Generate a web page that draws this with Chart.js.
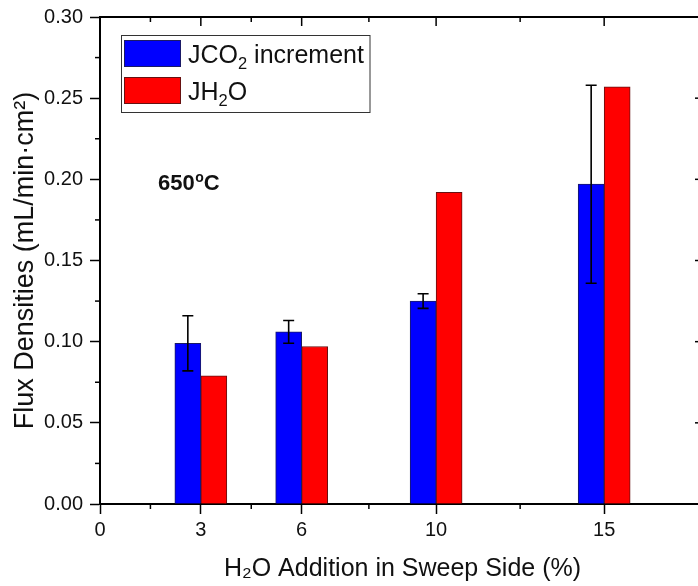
<!DOCTYPE html>
<html><head><meta charset="utf-8">
<script src="https://cdn.jsdelivr.net/npm/chart.js@4.4.0/dist/chart.umd.min.js"></script>
<style>
html,body{margin:0;padding:0;overflow:hidden;background:#fff;width:698px;height:586px}
#wrap{position:absolute;left:0;top:0;width:710px;height:586px}
</style>
</head><body><div id="wrap"><canvas id="c"></canvas></div>
<script>
// ---- data ----
const xPositions = [3, 6, 10, 15];
const co2Increment = [0.099, 0.106, 0.125, 0.197];
const co2Error = [0.017, 0.007, 0.0045, 0.061];
const h2oFlux = [0.079, 0.097, 0.192, 0.257];
const seriesLabels = ['JCO\u2082 increment', 'JH\u2082O'];
const xTickValues = [0, 3, 6, 10, 15];
const xMinorTicks = [1.5, 4.5, 8, 12.5];
const yTickValues = [0, 0.05, 0.10, 0.15, 0.20, 0.25, 0.30];
const yMinorTicks = [0.025, 0.075, 0.125, 0.175, 0.225, 0.275];
const annotationText = ['650', 'o', 'C'];

const FAMILY = '"Liberation Sans", Arial, sans-serif';
const BLUE = '#0000ff', RED = '#ff0000';

// draw text where \u2082 becomes subscript 2, \u00b2 superscript 2
function richParts(text){
  const out=[]; let buf='';
  for(const ch of text){
    if(ch==='\u2082'){ if(buf){out.push({t:buf,k:0});buf='';} out.push({t:'2',k:-1}); }
    else if(ch==='\u00b2'){ if(buf){out.push({t:buf,k:0});buf='';} out.push({t:'2',k:1}); }
    else buf+=ch;
  }
  if(buf) out.push({t:buf,k:0});
  return out;
}
function drawRich(ctx, text, x, y, size, weight){
  const parts = richParts(text);
  let cx = x;
  ctx.textBaseline = 'alphabetic'; ctx.textAlign = 'left';
  for(const p of parts){
    const s = p.k===0 ? size : size*0.66;
    const dy = p.k===-1 ? size*0.24 : (p.k===1 ? -size*0.4 : 0);
    ctx.font = `${weight} ${s}px ${FAMILY}`;
    ctx.fillText(p.t, cx, y+dy);
    cx += ctx.measureText(p.t).width;
  }
  return cx - x;
}

const errorBarPlugin = {
  id:'errorBars',
  afterDatasetsDraw(chart){
    const {ctx, scales:{y}} = chart;
    const meta = chart.getDatasetMeta(0);
    ctx.save();
    ctx.strokeStyle = '#000'; ctx.lineWidth = 1.6;
    meta.data.forEach((el,i)=>{
      const v = co2Increment[i], e = co2Error[i];
      const yt = y.getPixelForValue(v+e), yb = y.getPixelForValue(v-e);
      const x = el.x;
      ctx.beginPath();
      ctx.moveTo(x, yt); ctx.lineTo(x, yb);
      ctx.moveTo(x-5.5, yt); ctx.lineTo(x+5.5, yt);
      ctx.moveTo(x-5.5, yb); ctx.lineTo(x+5.5, yb);
      ctx.stroke();
    });
    ctx.restore();
  }
};

const framePlugin = {
  id:'frame',
  afterDraw(chart){
    const {ctx, chartArea:a, scales:{x,y}} = chart;
    ctx.save();
    ctx.strokeStyle = '#000';
    const line=(x1,y1,x2,y2)=>{ctx.beginPath();ctx.moveTo(x1,y1);ctx.lineTo(x2,y2);ctx.stroke();};
    ctx.lineWidth = 2;
    line(a.left-1, a.top, a.right, a.top);
    line(a.right, a.top, a.right, a.bottom);
    ctx.lineWidth = 1.5;
    xTickValues.forEach(v=>{const p=x.getPixelForValue(v); line(p,a.top,p,a.top+9);});
    xMinorTicks.forEach(v=>{const p=x.getPixelForValue(v); line(p,a.top,p,a.top+5); line(p,a.bottom,p,a.bottom+5);});
    yMinorTicks.forEach(v=>{const p=y.getPixelForValue(v); line(a.left-5,p,a.left,p); line(a.right-5,p,a.right,p);});
    yTickValues.forEach(v=>{const p=y.getPixelForValue(v); line(a.right-10,p,a.right,p);});

    // legend
    ctx.lineWidth = 1; ctx.strokeStyle = '#333';
    ctx.strokeRect(121.5, 35.5, 248.5, 77);
    const sw = [[BLUE,40,'#1a1a66'],[RED,77,'#661111']];
    chart.data.datasets.forEach((ds,i)=>{
      const top = sw[i][1];
      ctx.fillStyle = ds.backgroundColor;
      ctx.fillRect(124, top, 57, 27);
      ctx.strokeStyle = sw[i][2];
      ctx.strokeRect(124.5, top+0.5, 56, 26);
      ctx.fillStyle = '#111';
      drawRich(ctx, ds.label, 188, top+23, 25, 'normal');
    });

    // annotation 650 oC
    ctx.fillStyle = '#111';
    ctx.textBaseline = 'alphabetic'; ctx.textAlign='left';
    let cx = 158; const by = 190;
    ctx.font = `bold 22px ${FAMILY}`;
    ctx.fillText(annotationText[0], cx, by); cx += ctx.measureText(annotationText[0]).width + 0.5;
    ctx.font = `bold 14px ${FAMILY}`;
    ctx.fillText(annotationText[1], cx, by-8); cx += ctx.measureText(annotationText[1]).width;
    ctx.font = `bold 22px ${FAMILY}`;
    ctx.fillText(annotationText[2], cx, by);
    ctx.restore();
  }
};

new Chart(document.getElementById('c'), {
  type:'bar',
  data:{
    datasets:[
      {label:seriesLabels[0], data:xPositions.map((x,i)=>({x, y:co2Increment[i]})),
       backgroundColor:BLUE, borderColor:'#1a1a66', borderWidth:1, barThickness:26},
      {label:seriesLabels[1], data:xPositions.map((x,i)=>({x, y:h2oFlux[i]})),
       backgroundColor:RED, borderColor:'#661111', borderWidth:1, barThickness:26}
    ]
  },
  options:{
    responsive:true, maintainAspectRatio:false, animation:false, devicePixelRatio:1,
    layout:{padding:{top:17, right:5, left:0, bottom:0}},
    plugins:{legend:{display:false}, tooltip:{enabled:false}},
    scales:{
      x:{type:'linear', position:'bottom', min:0, max:18, offset:false,
        afterBuildTicks:s=>{s.ticks = xTickValues.map(v=>({value:v}));},
        afterFit:s=>{s.height=82; s.paddingLeft=0; s.paddingRight=0;},
        ticks:{callback:v=>String(v), font:{size:20, family:FAMILY}, color:'#111', padding:4, maxRotation:0, autoSkip:false},
        grid:{display:true, drawOnChartArea:false, offset:false, tickLength:10, tickWidth:1.5, tickColor:'#000'},
        border:{display:true, color:'#000', width:2},
        title:{display:true, text:'H\u2082O Addition in Sweep Side (%)', font:{size:25, family:FAMILY}, color:'#111', padding:{top:0,bottom:2}}
      },
      y:{type:'linear', position:'left', min:0, max:0.3,
        afterBuildTicks:s=>{s.ticks = yTickValues.map(v=>({value:v}));},
        afterFit:s=>{s.width=100; s.paddingTop=0; s.paddingBottom=0;},
        ticks:{callback:v=>Number(v).toFixed(2), font:{size:20, family:FAMILY}, color:'#111', padding:7},
        grid:{display:true, drawOnChartArea:false, tickLength:10, tickWidth:1.5, tickColor:'#000'},
        border:{display:true, color:'#000', width:2},
        title:{display:true, text:'Flux Densities (mL/min\u00b7cm\u00b2)', font:{size:27, family:FAMILY}, color:'#111', padding:{top:9,bottom:0}}
      }
    }
  },
  plugins:[errorBarPlugin, framePlugin]
});
</script>
</body></html>
